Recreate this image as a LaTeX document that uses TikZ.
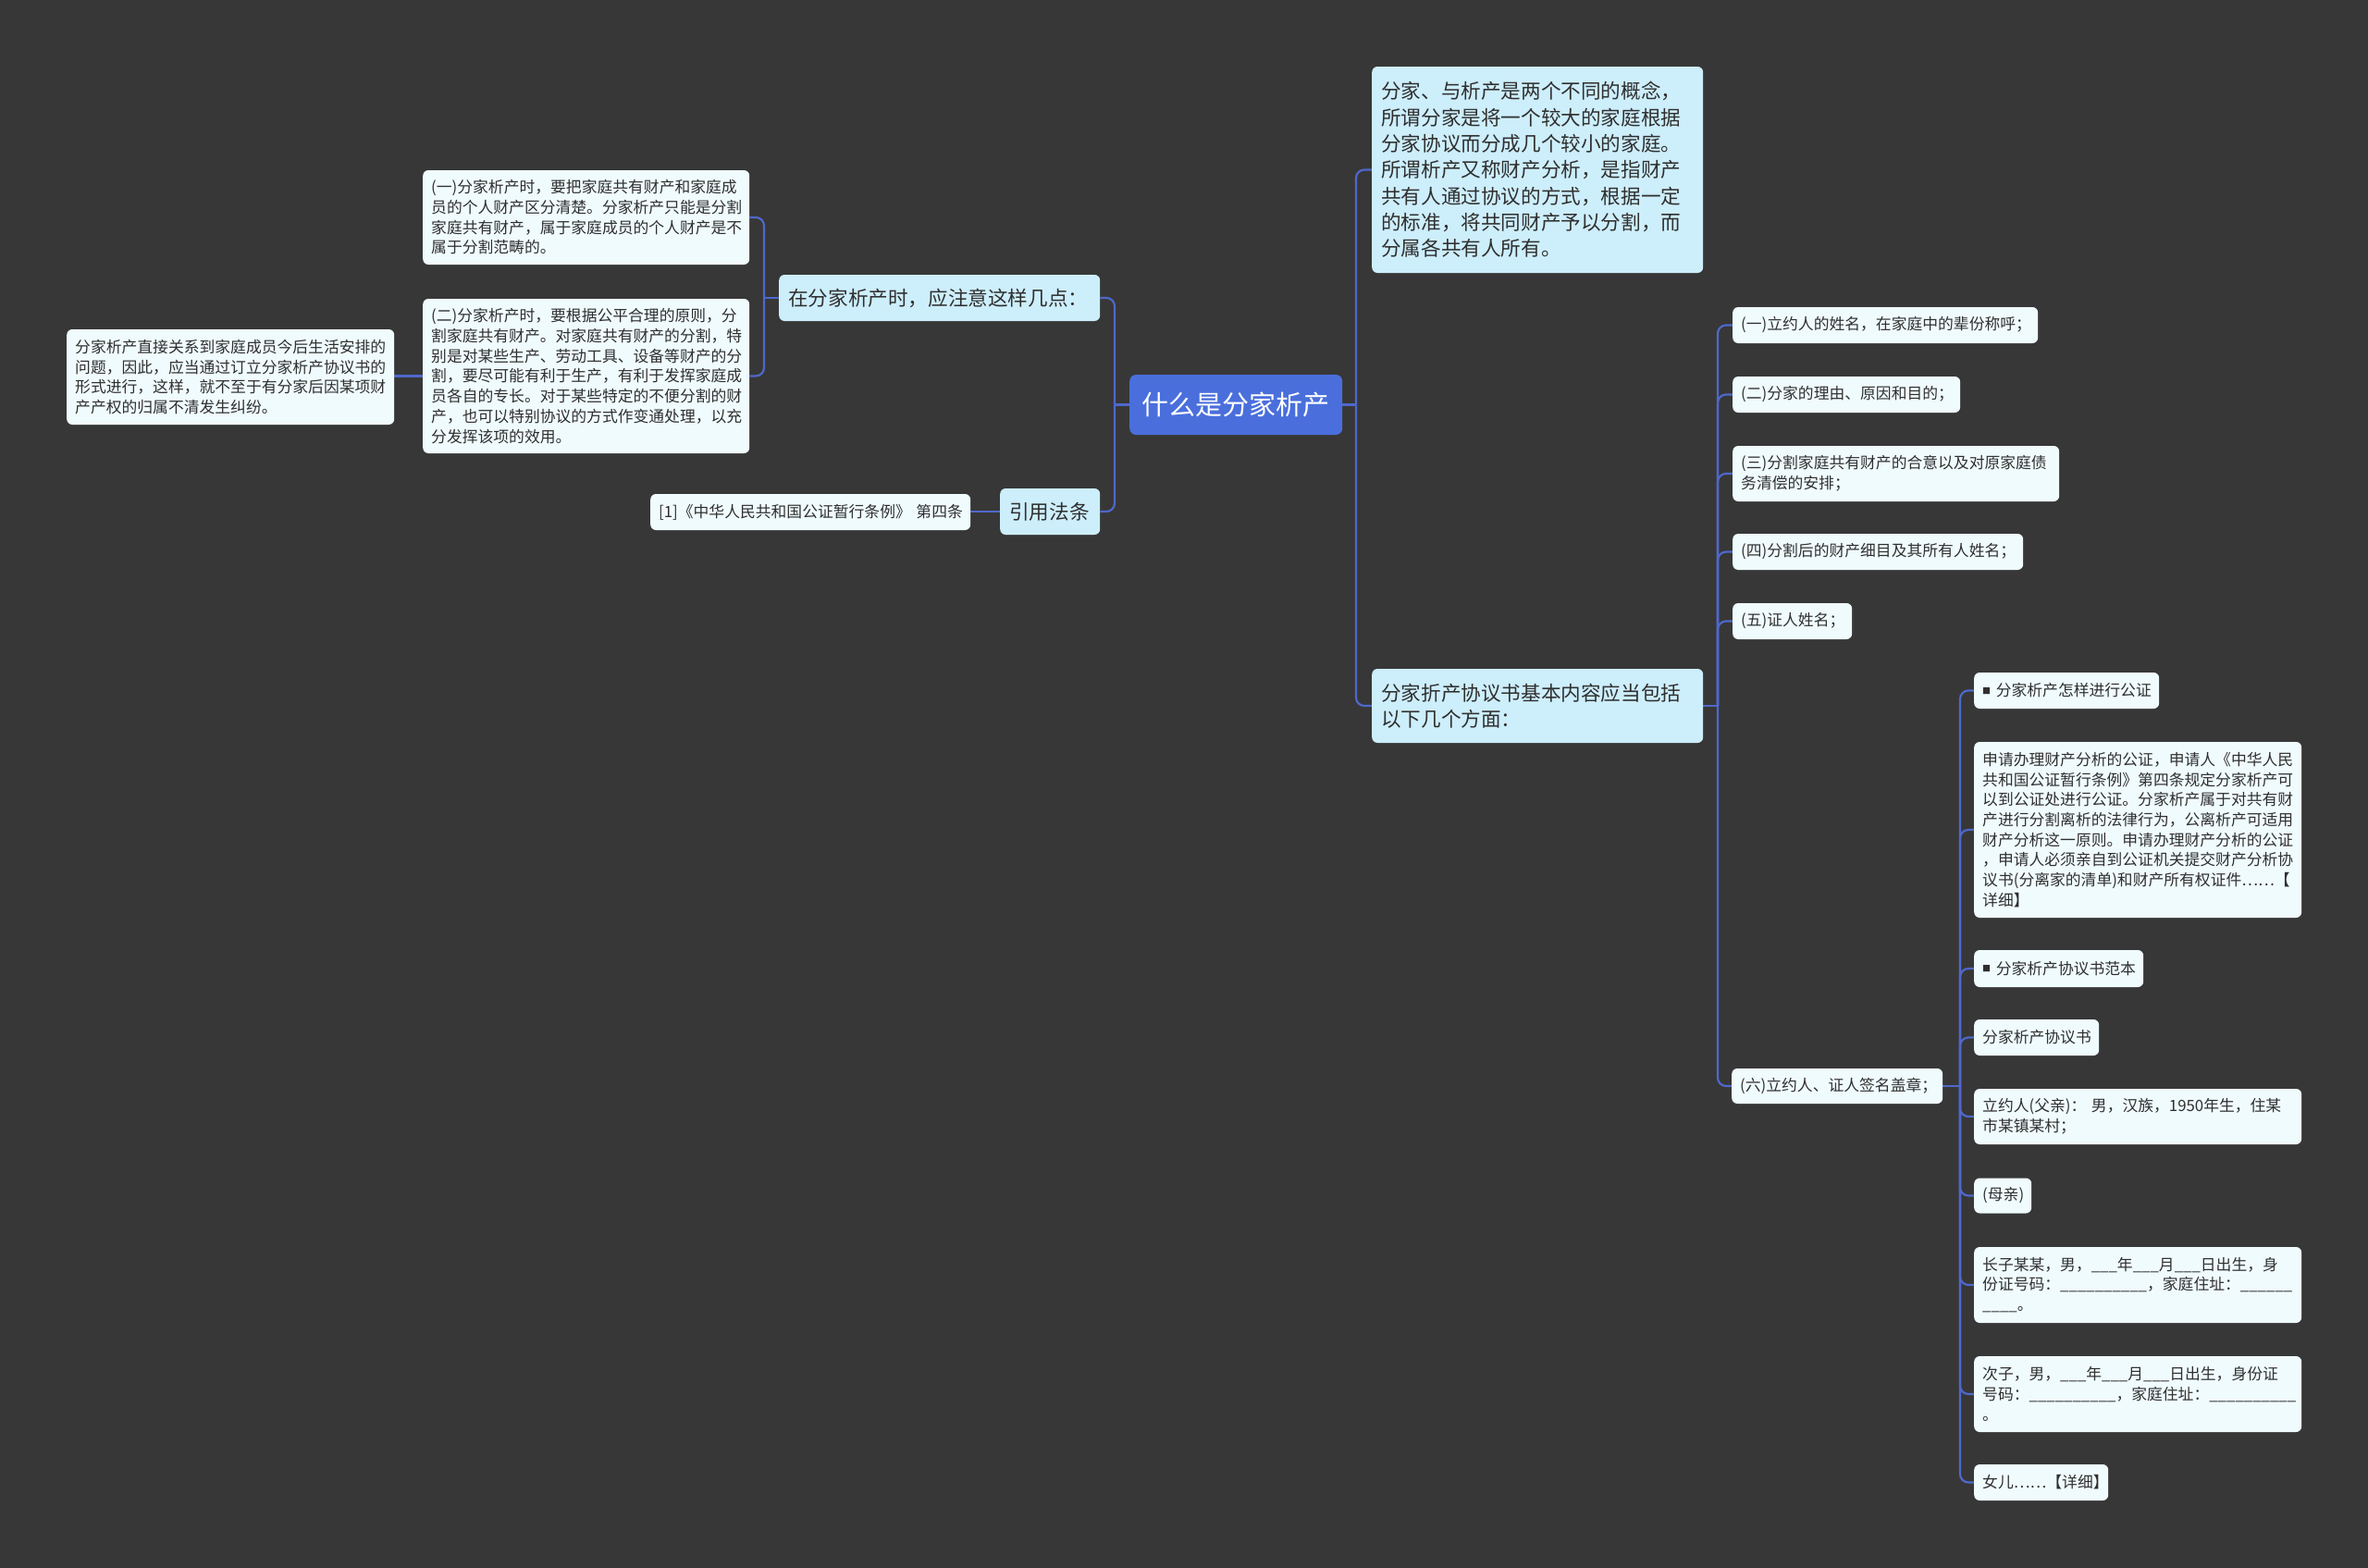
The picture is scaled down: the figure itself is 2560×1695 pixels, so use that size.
\documentclass[tikz,border=0pt]{standalone}
\usepackage{fontspec}
\setmainfont{Noto Sans CJK SC}
\usetikzlibrary{backgrounds}
\definecolor{bgc}{HTML}{373737}
\definecolor{rootc}{HTML}{4A6FDC}
\definecolor{lvone}{HTML}{CDEEFB}
\definecolor{leafc}{HTML}{F0FBFE}
\definecolor{linec}{HTML}{4F68CC}
\definecolor{txtc}{HTML}{2F2F2F}
\newcommand\sqmark{\raisebox{2.5pt}{\fontsize{9}{9}\selectfont ■}}
\tikzset{
  box/.style={rounded corners=6pt, anchor=west, align=left, inner xsep=9pt, inner ysep=0pt, text=txtc},
  leaf/.style={box, fill=leafc, font=\fontsize{16.8}{21.7}\selectfont},
  lv/.style={box, fill=lvone, inner xsep=10pt, font=\fontsize{21.6}{28.3}\selectfont},
  rootbox/.style={rounded corners=7pt, anchor=west, fill=rootc, text=white, inner sep=0pt, font=\fontsize{29}{34}\selectfont, align=center},
  conn/.style={draw=linec, line width=2.2pt, rounded corners=9pt},
}
\begin{document}
\begin{tikzpicture}[x=1pt,y=-1pt]
\useasboundingbox (0,0) rectangle (2560,1695);
% root
\node[rootbox, minimum width=230pt, minimum height=65pt] (root) at (1221,437.5) {什么是分家析产};
% left side
\node[lv, minimum width=347pt, text width=327pt, minimum height=50pt] (L1) at (842,322) {在分家析产时，应注意这样几点：};
\node[lv, minimum width=108pt, text width=88pt, minimum height=50pt] (L2) at (1081,553) {引用法条};
\node[leaf, minimum width=346pt, text width=328pt, minimum height=39pt] (L2a) at (703,553.5) {[1]《中华人民共和国公证暂行条例》~第四条};
\node[leaf, minimum width=353pt, text width=335pt, minimum height=102pt] (L1a) at (457,235) {(一)分家析产时，要把家庭共有财产和家庭成\\员的个人财产区分清楚。分家析产只能是分割\\家庭共有财产，属于家庭成员的个人财产是不\\属于分割范畴的。};
\node[leaf, minimum width=353pt, text width=335pt, minimum height=167pt] (L1b) at (457,406.5) {(二)分家析产时，要根据公平合理的原则，分\\割家庭共有财产。对家庭共有财产的分割，特\\别是对某些生产、劳动工具、设备等财产的分\\割，要尽可能有利于生产，有利于发挥家庭成\\员各自的专长。对于某些特定的不便分割的财\\产，也可以特别协议的方式作变通处理，以充\\分发挥该项的效用。};
\node[leaf, minimum width=354pt, text width=336pt, minimum height=103pt] (L1b1) at (72,407.5) {分家析产直接关系到家庭成员今后生活安排的\\问题，因此，应当通过订立分家析产协议书的\\形式进行，这样，就不至于有分家后因某项财\\产产权的归属不清发生纠纷。};
% right side
\node[lv, minimum width=358pt, text width=338pt, minimum height=223pt] (R1) at (1483,183.5) {分家、与析产是两个不同的概念，\\所谓分家是将一个较大的家庭根据\\分家协议而分成几个较小的家庭。\\所谓析产又称财产分析，是指财产\\共有人通过协议的方式，根据一定\\的标准，将共同财产予以分割，而\\分属各共有人所有。};
\node[lv, minimum width=358pt, text width=338pt, minimum height=80pt] (R2) at (1483,763) {分家折产协议书基本内容应当包括\\以下几个方面：};
\node[leaf, minimum width=330pt, text width=312pt, minimum height=39pt] (R2a) at (1873,351.5) {(一)立约人的姓名，在家庭中的辈份称呼；};
\node[leaf, minimum width=246pt, text width=228pt, minimum height=39pt] (R2b) at (1873,426.5) {(二)分家的理由、原因和目的；};
\node[leaf, minimum width=353pt, text width=335pt, minimum height=60pt] (R2c) at (1873,512) {(三)分割家庭共有财产的合意以及对原家庭债\\务清偿的安排；};
\node[leaf, minimum width=314pt, text width=296pt, minimum height=39pt] (R2d) at (1873,596.5) {(四)分割后的财产细目及其所有人姓名；};
\node[leaf, minimum width=129pt, text width=111pt, minimum height=39pt] (R2e) at (1873,671.5) {(五)证人姓名；};
\node[leaf, minimum width=228pt, text width=210pt, minimum height=38pt] (R2f) at (1872,1174) {(六)立约人、证人签名盖章；};
\node[leaf, minimum width=200pt, text width=182pt, minimum height=39pt] (F1) at (2134,746.5) {\sqmark~分家析产怎样进行公证};
\node[leaf, minimum width=354pt, text width=336pt, minimum height=190pt] (F2) at (2134,897) {申请办理财产分析的公证，申请人《中华人民\\共和国公证暂行条例》第四条规定分家析产可\\以到公证处进行公证。分家析产属于对共有财\\产进行分割离析的法律行为，公离析产可适用\\财产分析这一原则。申请办理财产分析的公证\\，申请人必须亲自到公证机关提交财产分析协\\议书(分离家的清单)和财产所有权证件……【\\详细】};
\node[leaf, minimum width=183pt, text width=165pt, minimum height=40pt] (F3) at (2134,1047) {\sqmark~分家析产协议书范本};
\node[leaf, minimum width=135pt, text width=117pt, minimum height=39pt] (F4) at (2134,1121.5) {分家析产协议书};
\node[leaf, minimum width=354pt, text width=336pt, minimum height=60pt] (F5) at (2134,1207) {立约人(父亲)：~男，汉族，1950年生，住某\\市某镇某村；};
\node[leaf, minimum width=62pt, text width=44pt, minimum height=38pt] (F6) at (2134,1292.5) {(母亲)};
\node[leaf, minimum width=354pt, text width=336pt, minimum height=82pt] (F7) at (2134,1389) {长子某某，男，\_\_\_年\_\_\_月\_\_\_日出生，身\\份证号码：\_\_\_\_\_\_\_\_\_\_，家庭住址：\_\_\_\_\_\_\\\_\_\_\_。};
\node[leaf, minimum width=354pt, text width=336pt, minimum height=82pt] (F8) at (2134,1507) {次子，男，\_\_\_年\_\_\_月\_\_\_日出生，身份证\\号码：\_\_\_\_\_\_\_\_\_\_，家庭住址：\_\_\_\_\_\_\_\_\_\_\\。};
\node[leaf, minimum width=145pt, text width=127pt, minimum height=39pt] (F9) at (2134,1602.5) {女儿……【详细】};
% junctions
\coordinate (jL) at (1205,437.5);
\coordinate (j1) at (826,322);
\coordinate (jR) at (1466,437.5);
\coordinate (j2) at (1857,763);
\coordinate (j3) at (2119,1174);
\begin{scope}[on background layer]
\fill[bgc] (0,0) rectangle (2560,1695);
\draw[conn] (root.west) -- (jL);
\draw[conn] (jL) |- (L1.east);
\draw[conn] (jL) |- (L2.east);
\draw[conn] (L1.west) -- (j1);
\draw[conn] (j1) |- (L1a.east);
\draw[conn] (j1) |- (L1b.east);
\draw[conn] (L1b.west) -- (L1b.west -| L1b1.east);
\draw[conn] (L2.west) -- (L2.west -| L2a.east);
\draw[conn] (root.east) -- (jR);
\draw[conn] (jR) |- (R1.west);
\draw[conn] (jR) |- (R2.west);
\draw[conn] (R2.east) -- (j2);
\foreach \n in {R2a,R2b,R2c,R2d,R2e,R2f} \draw[conn] (j2) |- (\n.west);
\draw[conn] (R2f.east) -- (j3);
\foreach \n in {F1,F2,F3,F4,F5,F6,F7,F8,F9} \draw[conn] (j3) |- (\n.west);
\end{scope}
\end{tikzpicture}
\end{document}
